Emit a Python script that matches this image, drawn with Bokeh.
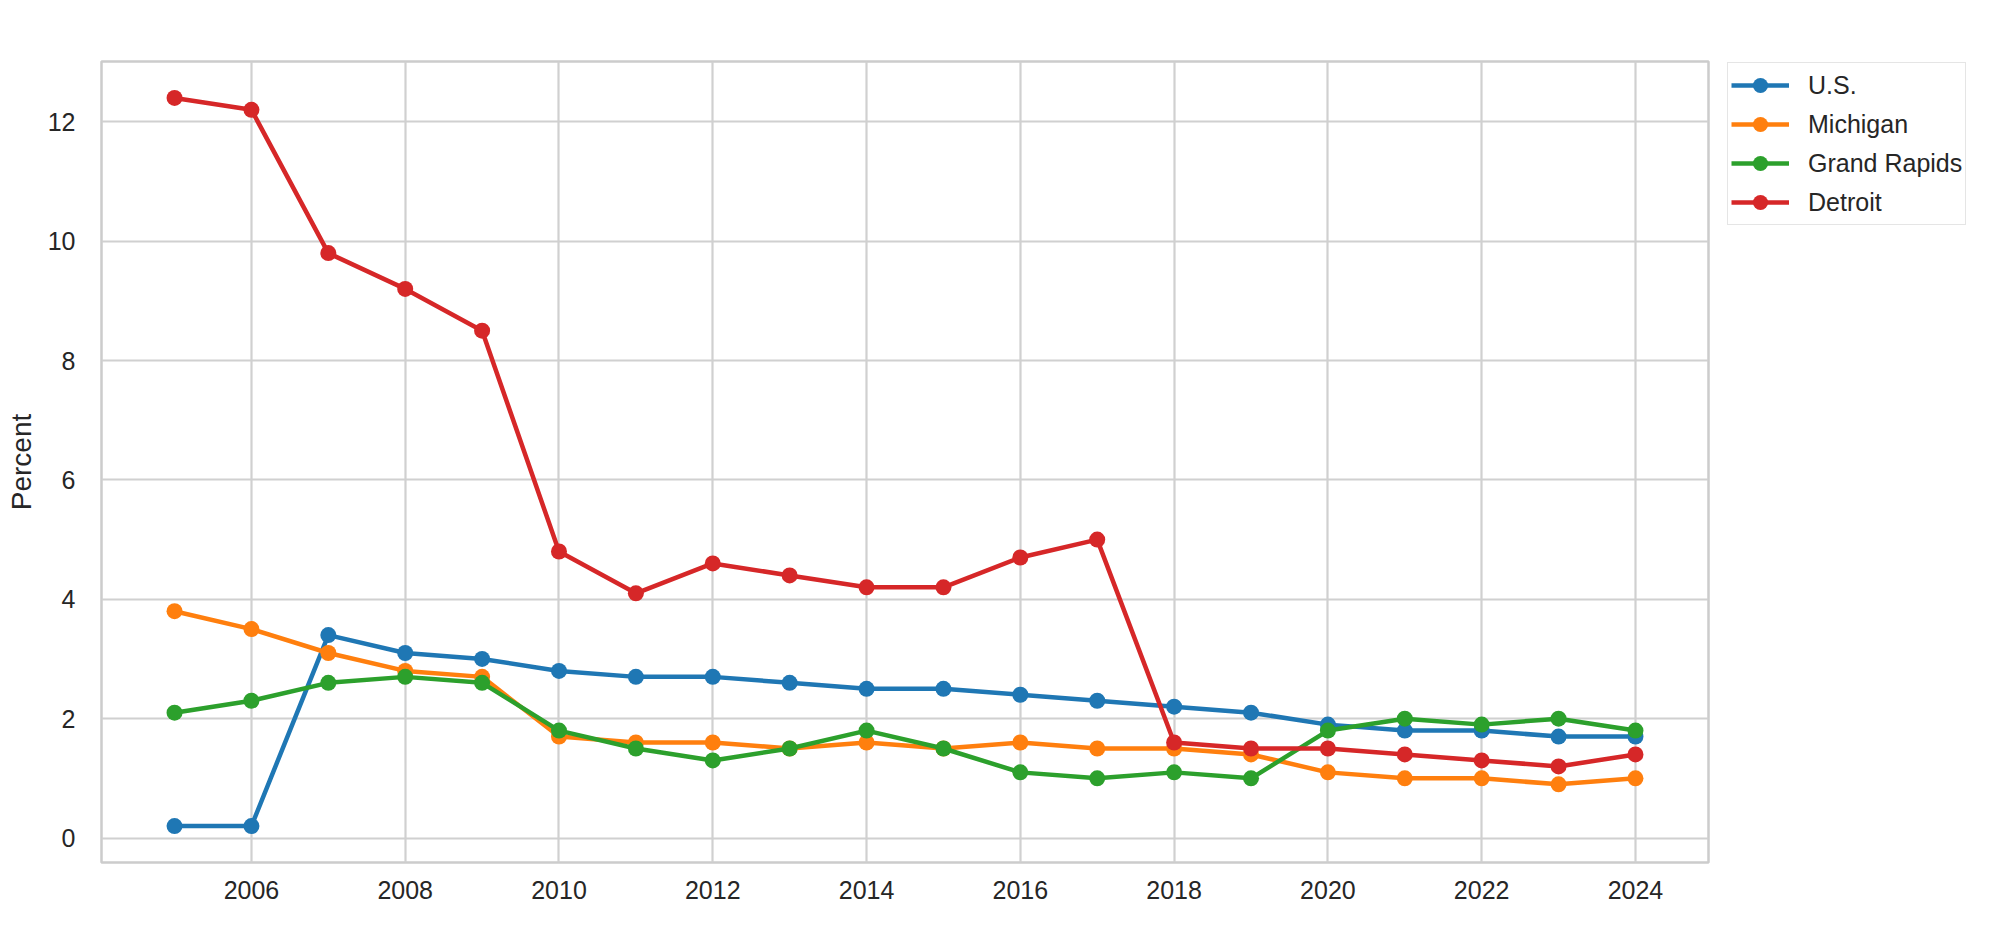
from bokeh.plotting import figure
from bokeh.models import Legend, LegendItem, FixedTicker, Range1d
from bokeh.embed import file_html
from bokeh.resources import INLINE

years = list(range(2005, 2025))
us = [0.2, 0.2, 3.4, 3.1, 3.0, 2.8, 2.7, 2.7, 2.6, 2.5, 2.5, 2.4, 2.3, 2.2, 2.1, 1.9, 1.8, 1.8, 1.7, 1.7]
michigan = [3.8, 3.5, 3.1, 2.8, 2.7, 1.7, 1.6, 1.6, 1.5, 1.6, 1.5, 1.6, 1.5, 1.5, 1.4, 1.1, 1.0, 1.0, 0.9, 1.0]
grand_rapids = [2.1, 2.3, 2.6, 2.7, 2.6, 1.8, 1.5, 1.3, 1.5, 1.8, 1.5, 1.1, 1.0, 1.1, 1.0, 1.8, 2.0, 1.9, 2.0, 1.8]
detroit = [12.4, 12.2, 9.8, 9.2, 8.5, 4.8, 4.1, 4.6, 4.4, 4.2, 4.2, 4.7, 5.0, 1.6, 1.5, 1.5, 1.4, 1.3, 1.2, 1.4]

series_names = ["U.S.", "Michigan", "Grand Rapids", "Detroit"]
series_values = [us, michigan, grand_rapids, detroit]
colors = ["#1f77b4", "#ff7f0e", "#2ca02c", "#d62728"]

x_ticks = list(range(2006, 2025, 2))
y_ticks = list(range(0, 13, 2))

FONT = "Liberation Sans"
TXT = "#262626"
GRID = "#d0d0d0"

p = figure(
    frame_width=1607, frame_height=801,
    min_border_left=101, min_border_right=0, min_border_top=61, min_border_bottom=64,
    output_backend="svg", toolbar_location=None,
    x_range=Range1d(2004.05, 2024.95), y_range=Range1d(-0.41, 13.01),
    background_fill_color="white", border_fill_color="white",
)

items = []
for name, vals, c in zip(series_names, series_values, colors):
    ln = p.line(years, vals, line_color=c, line_width=4.5)
    sc = p.scatter(years, vals, size=16, fill_color=c, line_color=c, line_width=0)
    items.append(LegendItem(label=name, renderers=[ln, sc]))

p.xaxis.ticker = FixedTicker(ticks=x_ticks)
p.yaxis.ticker = FixedTicker(ticks=y_ticks)
p.yaxis.axis_label = "Percent"

for ax in (p.xaxis, p.yaxis):
    ax.axis_line_color = None
    ax.major_tick_line_color = None
    ax.minor_tick_line_color = None
    ax.major_tick_out = 0
    ax.major_tick_in = 0
    ax.minor_tick_out = 0
    ax.minor_tick_in = 0
    ax.major_label_text_font = FONT
    ax.major_label_text_font_size = "25px"
    ax.major_label_text_color = TXT
    ax.axis_label_text_font = FONT
    ax.axis_label_text_font_size = "28px"
    ax.axis_label_text_font_style = "normal"
    ax.axis_label_text_color = TXT

p.yaxis.major_label_standoff = 26
p.yaxis.axis_label_standoff = 8
p.xaxis.major_label_standoff = 18

p.xgrid.grid_line_color = GRID
p.ygrid.grid_line_color = GRID
p.xgrid.grid_line_width = 2.2
p.ygrid.grid_line_width = 2.2
p.outline_line_color = "#cccccc"
p.outline_line_width = 2.5

legend = Legend(
    items=items, location=(19, 637), ncols=1, orientation="vertical",
    label_text_font=FONT, label_text_font_size="25px", label_text_color=TXT,
    glyph_width=58, glyph_height=38, label_height=38, label_standoff=19,
    spacing=1, padding=3, margin=0,
    border_line_color="#cccccc", border_line_width=1.5,
    background_fill_color="white", background_fill_alpha=1.0,
)
p.add_layout(legend, "right")

open("out.html", "w").write(file_html(p, INLINE))
